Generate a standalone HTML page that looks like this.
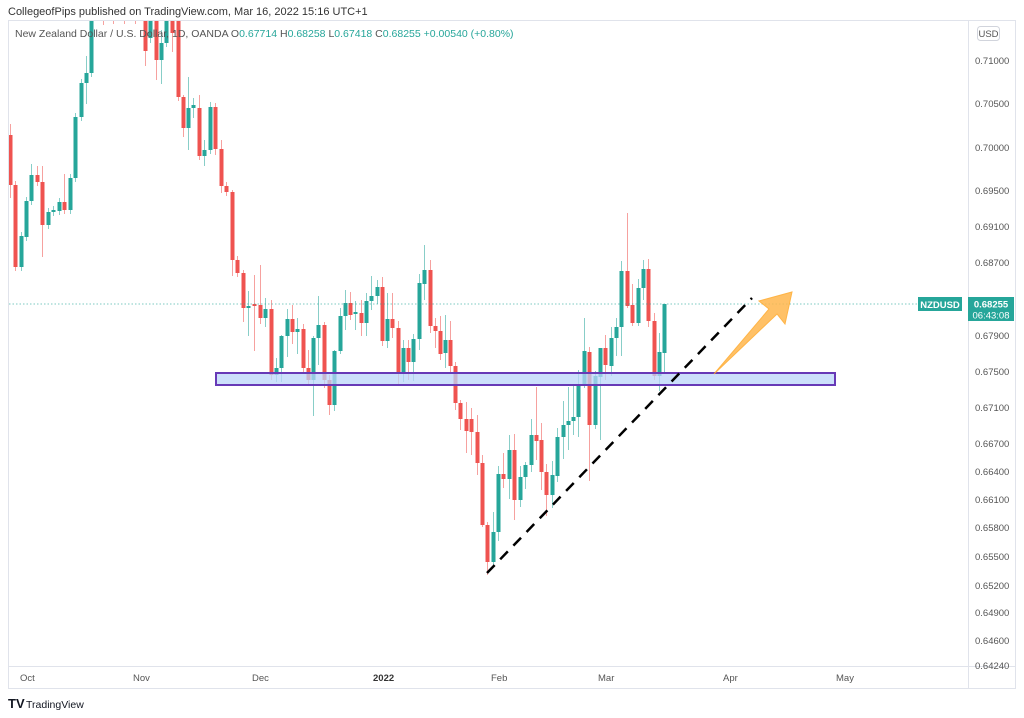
<!DOCTYPE html>
<html><head><meta charset="utf-8"><style>
body{margin:0;background:#fff;font-family:"Liberation Sans",sans-serif;}
svg{display:block}
</style></head><body>
<svg id="s" width="1024" height="718" xmlns="http://www.w3.org/2000/svg" font-family="Liberation Sans, sans-serif">
<rect width="1024" height="718" fill="#fff"/>
<text x="8" y="15" font-size="11" fill="#333">CollegeofPips published on TradingView.com, Mar 16, 2022 15:16 UTC+1</text>
<rect x="8.5" y="20.5" width="1007" height="668" fill="none" stroke="#e0e3eb"/>
<line x1="968.5" y1="20" x2="968.5" y2="688" stroke="#e0e3eb"/>
<line x1="8" y1="666.5" x2="1016" y2="666.5" stroke="#e0e3eb"/>
<defs><clipPath id="c"><rect x="9" y="21" width="959" height="645"/></clipPath></defs>
<g id="cs" clip-path="url(#c)"></g>
<line x1="9" y1="304" x2="918" y2="304" stroke="#26a69a" stroke-dasharray="1.5,2" opacity="0.6"/>
<rect x="216" y="373" width="619" height="12" fill="#bbd6fa" fill-opacity="0.75" stroke="#673ab7" stroke-width="2"/>
<line x1="487" y1="573" x2="752" y2="298" stroke="#000" stroke-width="2.5" stroke-dasharray="11,8"/>
<polygon points="714,374 769,309 759,301 792,292 785,324 777,314" fill="#ffb74d" opacity="0.85" stroke="#ffa726" stroke-width="1"/>
<text x="15" y="37" font-size="10.5" fill="#555">New Zealand Dollar / U.S. Dollar, 1D, OANDA  O<tspan fill="#26a69a">0.67714</tspan>  H<tspan fill="#26a69a">0.68258</tspan>  L<tspan fill="#26a69a">0.67418</tspan>  C<tspan fill="#26a69a">0.68255</tspan>  <tspan fill="#26a69a">+0.00540 (+0.80%)</tspan></text>
<rect x="977.5" y="26.5" width="22" height="14" rx="3" fill="#fff" stroke="#d1d4dc"/>
<text x="988.5" y="37" font-size="9.5" fill="#555" text-anchor="middle">USD</text>
<g id="pl" font-size="9.5" fill="#555"></g>
<rect x="918" y="297" width="44" height="14" fill="#26a69a"/>
<text x="940" y="308" font-size="9.5" fill="#fff" text-anchor="middle" font-weight="bold">NZDUSD</text>
<rect x="968" y="297" width="46" height="24" fill="#26a69a"/>
<text x="991" y="307.5" font-size="9.5" fill="#fff" text-anchor="middle" font-weight="bold">0.68255</text>
<text x="991" y="318.5" font-size="9.5" fill="#fff" text-anchor="middle">06:43:08</text>
<g font-size="9.5" fill="#555">
<text x="20" y="681">Oct</text><text x="133" y="681">Nov</text><text x="252" y="681">Dec</text>
<text x="373" y="681" font-weight="bold" fill="#333">2022</text><text x="491" y="681">Feb</text>
<text x="598" y="681">Mar</text><text x="723" y="681">Apr</text><text x="836" y="681">May</text>
</g>
<text x="8" y="708" font-size="13" font-weight="bold" fill="#131722">TV</text>
<text x="26" y="708" font-size="10.5" fill="#131722">TradingView</text>
</svg>
<script>
var P=[[0.71,61],[0.705,104],[0.70,148],[0.695,191],[0.691,227],[0.687,263],[0.679,336],[0.675,372],[0.671,408],[0.667,444],[0.664,472],[0.661,500],[0.658,528],[0.655,557],[0.652,586],[0.649,613],[0.646,641],[0.6424,666]];
var pl=document.getElementById('pl'),h='';
P.forEach(function(p){h+='<text x="975" y="'+(p[1]+3)+'">'+p[0].toFixed(5)+'</text>';});
pl.innerHTML=h;
var D=[[10,135,185,'r',124,198],[15,185,267,'r'],[21,236,267,'g'],[26,201,237,'g'],[31,175,201,'g',164],[37,175,182,'r',166],[42,182,225,'r',166,257],[48,212,225,'g'],[53,210,212,'g'],[59,202,211,'g'],[64,202,210,'r',174],[70,178,210,'g'],[75,117,178,'g'],[81,83,117,'g'],[86,73,83,'g',56,104],[91,0,73,'g'],[97,0,12,'g'],[103,0,14,'r',0,25],[108,0,10,'g'],[113,0,12,'r',0,24],[119,0,10,'g'],[124,0,14,'r',0,24],[130,0,10,'g'],[135,0,12,'r',0,24],[140,0,10,'g'],[145,20,51,'r',20,66],[150,20,38,'g',20,43],[156,20,60,'r',20,80],[161,43,60,'g',30,84],[166,20,43,'g'],[172,20,33,'r',20,52],[178,20,97,'r'],[183,97,128,'r',95,137],[188,108,128,'g',77,150],[193,105,108,'g',98,118],[199,108,156,'r',95,160],[204,150,156,'g',140,166],[210,107,150,'g',102],[215,107,149,'r',103,155],[221,149,186,'r',140,193],[226,186,192,'r'],[232,192,260,'r',190,276],[237,260,273,'r'],[243,273,308,'r',270,322],[248,306,308,'g',291,336],[254,304,306,'r',275,351],[260,305,318,'r',265,324],[265,309,318,'g',298,327],[271,309,375,'r',300,380],[276,368,375,'g',358,382],[281,336,368,'g',335,382],[287,319,336,'g',309,357],[292,319,332,'r',305,344],[297,329,332,'g',318,354],[303,329,368,'r',324,374],[308,368,380,'r',350,385],[313,338,380,'g',336,416],[318,325,338,'g',296,365],[324,325,380,'r',322,388],[329,380,405,'r',375,415],[334,351,405,'g',350,411],[340,316,351,'g',308,354],[345,303,316,'g',290,330],[350,303,315,'r',292,320],[355,312,314,'g',301,330],[361,313,323,'r',300,336],[366,301,323,'g',293,336],[371,296,301,'g',276,310],[377,287,296,'g',280,304],[382,287,341,'r',277,346],[387,319,341,'g',293,348],[392,319,328,'r',293,338],[398,328,373,'r',321,386],[403,348,373,'g',340,382],[408,348,362,'r',340,380],[413,339,362,'g',334,381],[419,283,339,'g',274,350],[424,270,284,'g',245,300],[430,270,326,'r',260,333],[435,326,331,'r',318,348],[440,331,354,'r',316,360],[445,340,353,'g',315,368],[450,340,366,'r',321,372],[455,366,403,'r',362,410],[460,403,419,'r',400,430],[466,419,431,'r',402,453],[471,419,432,'r',408,455],[477,432,463,'r',415,475],[482,463,525,'r',455,527],[487,525,562,'r',522,575],[493,532,562,'g',512,566],[498,474,532,'g',466,541],[503,474,479,'r',453,488],[509,450,479,'g',435,499],[514,450,500,'r',434,520],[520,477,500,'g',466,507],[525,465,477,'g',462,489],[531,435,465,'g',419,472],[536,435,441,'r',387,460],[541,440,472,'r',423,490],[546,472,495,'r',464,516],[552,475,495,'g',461,508],[557,437,476,'g',428,482],[563,425,437,'g',401,459],[568,421,425,'g',387,450],[573,417,421,'g',384,435],[578,385,417,'g',370,437],[584,351,385,'g',318,388],[589,352,425,'r',347,481],[595,376,425,'g',371,429],[600,348,377,'g',348,440],[605,348,365,'r',335,380],[611,338,366,'g',327,376],[616,327,338,'g',318,356],[621,271,327,'g',261,356],[627,271,306,'r',213,308],[632,305,323,'r',284,326],[638,288,323,'g',279,326],[643,269,288,'g',260,300],[648,269,321,'r',259,327],[654,321,376,'r',313,380],[659,352,376,'g',333,391],[664,304,353,'g',304,374]];
var g='';
D.forEach(function(d){var x=d[0],t=d[1],b=d[2],c=d[3]=='g'?'#26a69a':'#ef5350';
var hi=d.length>4?d[4]:t-4,lo=d.length>5?d[5]:b+4;
g+='<line x1="'+(x+0.5)+'" y1="'+hi+'" x2="'+(x+0.5)+'" y2="'+lo+'" stroke="'+c+'" stroke-opacity="0.55"/>';
g+='<rect x="'+(x-1.5)+'" y="'+t+'" width="4" height="'+Math.max(1.5,b-t)+'" fill="'+c+'"/>';});
document.getElementById('cs').innerHTML=g;
</script>
</body></html>
